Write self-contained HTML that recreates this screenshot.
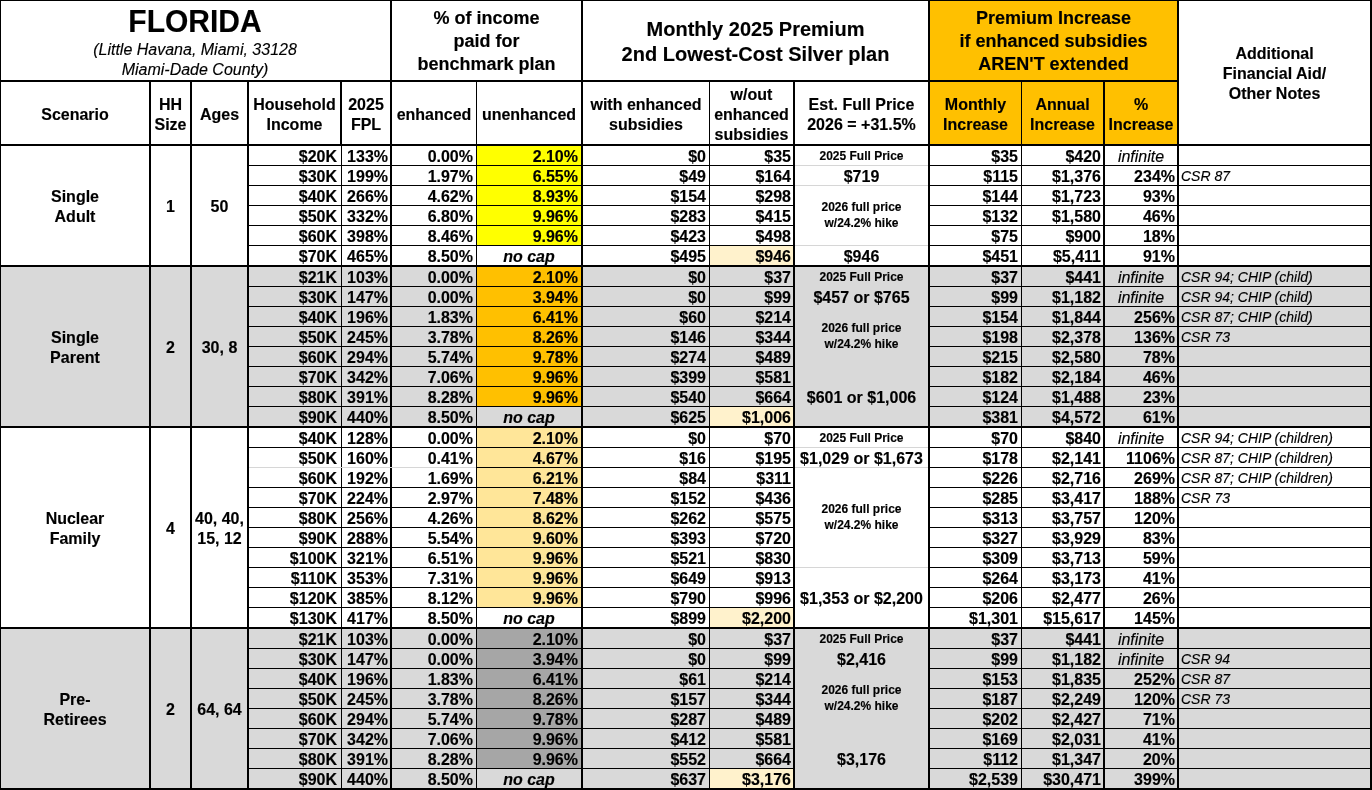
<!DOCTYPE html>
<html><head><meta charset="utf-8"><style>
html,body{margin:0;padding:0;background:#fff;}
#c{position:relative;width:1372px;height:790px;overflow:hidden;background:#fff;font-family:"Liberation Sans",sans-serif;color:#000;}
#c i{position:absolute;display:block;}
#t{position:absolute;left:0;top:0;width:1372px;height:790px;will-change:transform;}
#c b{position:absolute;display:block;white-space:pre;font-weight:bold;-webkit-text-stroke:0.15px #000;}
</style></head><body><div id="c">
<i style="left:930px;top:0px;width:247px;height:144px;background:#FFC000"></i>
<i style="left:0px;top:267px;width:1372px;height:159px;background:#D9D9D9"></i>
<i style="left:0px;top:629px;width:1372px;height:159px;background:#D9D9D9"></i>
<i style="left:477px;top:146px;width:104px;height:99px;background:#FFFF00"></i>
<i style="left:477px;top:267px;width:104px;height:139px;background:#FFC000"></i>
<i style="left:477px;top:428px;width:104px;height:179px;background:#FFE699"></i>
<i style="left:477px;top:629px;width:104px;height:139px;background:#A6A6A6"></i>
<i style="left:710px;top:246px;width:83px;height:19px;background:#FFF2CC"></i>
<i style="left:710px;top:407px;width:83px;height:19px;background:#FFF2CC"></i>
<i style="left:710px;top:608px;width:83px;height:19px;background:#FFF2CC"></i>
<i style="left:710px;top:769px;width:83px;height:19px;background:#FFF2CC"></i>
<i style="left:0px;top:0px;width:1372px;height:1px;background:#000"></i>
<i style="left:0px;top:0px;width:1px;height:790px;background:#000"></i>
<i style="left:1370px;top:0px;width:2px;height:790px;background:#000"></i>
<i style="left:0px;top:80px;width:1177px;height:2px;background:#000"></i>
<i style="left:0px;top:144px;width:1372px;height:2px;background:#000"></i>
<i style="left:0px;top:265px;width:1372px;height:2px;background:#000"></i>
<i style="left:0px;top:426px;width:1372px;height:2px;background:#000"></i>
<i style="left:0px;top:627px;width:1372px;height:2px;background:#000"></i>
<i style="left:0px;top:788px;width:1372px;height:2px;background:#000"></i>
<i style="left:390px;top:0px;width:2px;height:790px;background:#000"></i>
<i style="left:581px;top:0px;width:2px;height:790px;background:#000"></i>
<i style="left:928px;top:0px;width:2px;height:790px;background:#000"></i>
<i style="left:1177px;top:0px;width:2px;height:790px;background:#000"></i>
<i style="left:149px;top:82px;width:2px;height:708px;background:#000"></i>
<i style="left:190px;top:82px;width:2px;height:708px;background:#000"></i>
<i style="left:247px;top:82px;width:2px;height:708px;background:#000"></i>
<i style="left:476px;top:82px;width:1px;height:708px;background:#000"></i>
<i style="left:709px;top:82px;width:1px;height:708px;background:#000"></i>
<i style="left:793px;top:82px;width:2px;height:708px;background:#000"></i>
<i style="left:1021px;top:82px;width:1px;height:708px;background:#000"></i>
<i style="left:1103px;top:82px;width:2px;height:708px;background:#000"></i>
<i style="left:340px;top:82px;width:2px;height:64px;background:#000"></i>
<i style="left:341px;top:146px;width:1px;height:644px;background:#000"></i>
<i style="left:249px;top:165px;width:544px;height:1px;background:#000"></i>
<i style="left:930px;top:165px;width:440px;height:1px;background:#000"></i>
<i style="left:249px;top:185px;width:544px;height:1px;background:#000"></i>
<i style="left:930px;top:185px;width:440px;height:1px;background:#000"></i>
<i style="left:249px;top:205px;width:544px;height:1px;background:#000"></i>
<i style="left:930px;top:205px;width:440px;height:1px;background:#000"></i>
<i style="left:249px;top:225px;width:544px;height:1px;background:#000"></i>
<i style="left:930px;top:225px;width:440px;height:1px;background:#000"></i>
<i style="left:249px;top:245px;width:544px;height:1px;background:#000"></i>
<i style="left:930px;top:245px;width:440px;height:1px;background:#000"></i>
<i style="left:249px;top:286px;width:544px;height:1px;background:#000"></i>
<i style="left:930px;top:286px;width:440px;height:1px;background:#000"></i>
<i style="left:249px;top:306px;width:544px;height:1px;background:#000"></i>
<i style="left:930px;top:306px;width:440px;height:1px;background:#000"></i>
<i style="left:249px;top:326px;width:544px;height:1px;background:#000"></i>
<i style="left:930px;top:326px;width:440px;height:1px;background:#000"></i>
<i style="left:249px;top:346px;width:544px;height:1px;background:#000"></i>
<i style="left:930px;top:346px;width:440px;height:1px;background:#000"></i>
<i style="left:249px;top:366px;width:544px;height:1px;background:#000"></i>
<i style="left:930px;top:366px;width:440px;height:1px;background:#000"></i>
<i style="left:249px;top:386px;width:544px;height:1px;background:#000"></i>
<i style="left:930px;top:386px;width:440px;height:1px;background:#000"></i>
<i style="left:249px;top:406px;width:544px;height:1px;background:#000"></i>
<i style="left:930px;top:406px;width:440px;height:1px;background:#000"></i>
<i style="left:249px;top:447px;width:544px;height:1px;background:#000"></i>
<i style="left:930px;top:447px;width:440px;height:1px;background:#000"></i>
<i style="left:249px;top:467px;width:227px;height:1px;background:#D6D6D6"></i>
<i style="left:477px;top:467px;width:316px;height:1px;background:#000"></i>
<i style="left:930px;top:467px;width:440px;height:1px;background:#000"></i>
<i style="left:249px;top:487px;width:544px;height:1px;background:#000"></i>
<i style="left:930px;top:487px;width:440px;height:1px;background:#000"></i>
<i style="left:249px;top:507px;width:544px;height:1px;background:#000"></i>
<i style="left:930px;top:507px;width:440px;height:1px;background:#000"></i>
<i style="left:249px;top:527px;width:544px;height:1px;background:#000"></i>
<i style="left:930px;top:527px;width:440px;height:1px;background:#000"></i>
<i style="left:249px;top:547px;width:544px;height:1px;background:#000"></i>
<i style="left:930px;top:547px;width:440px;height:1px;background:#000"></i>
<i style="left:249px;top:567px;width:544px;height:1px;background:#000"></i>
<i style="left:930px;top:567px;width:440px;height:1px;background:#000"></i>
<i style="left:249px;top:587px;width:544px;height:1px;background:#000"></i>
<i style="left:930px;top:587px;width:440px;height:1px;background:#000"></i>
<i style="left:249px;top:607px;width:544px;height:1px;background:#000"></i>
<i style="left:930px;top:607px;width:440px;height:1px;background:#000"></i>
<i style="left:249px;top:648px;width:544px;height:1px;background:#000"></i>
<i style="left:930px;top:648px;width:440px;height:1px;background:#000"></i>
<i style="left:249px;top:668px;width:544px;height:1px;background:#000"></i>
<i style="left:930px;top:668px;width:440px;height:1px;background:#000"></i>
<i style="left:249px;top:688px;width:544px;height:1px;background:#000"></i>
<i style="left:930px;top:688px;width:440px;height:1px;background:#000"></i>
<i style="left:249px;top:708px;width:544px;height:1px;background:#000"></i>
<i style="left:930px;top:708px;width:440px;height:1px;background:#000"></i>
<i style="left:249px;top:728px;width:544px;height:1px;background:#000"></i>
<i style="left:930px;top:728px;width:440px;height:1px;background:#000"></i>
<i style="left:249px;top:748px;width:544px;height:1px;background:#000"></i>
<i style="left:930px;top:748px;width:440px;height:1px;background:#000"></i>
<i style="left:249px;top:768px;width:544px;height:1px;background:#000"></i>
<i style="left:930px;top:768px;width:440px;height:1px;background:#000"></i>
<i style="left:795px;top:165px;width:133px;height:1px;background:#D6D6D6"></i>
<i style="left:795px;top:185px;width:133px;height:1px;background:#D6D6D6"></i>
<i style="left:795px;top:245px;width:133px;height:1px;background:#D6D6D6"></i>
<i style="left:795px;top:447px;width:133px;height:1px;background:#D6D6D6"></i>
<i style="left:795px;top:467px;width:133px;height:1px;background:#D6D6D6"></i>
<i style="left:795px;top:567px;width:133px;height:1px;background:#D6D6D6"></i>
<div id="t">
<b style="top:5.30px;height:34px;line-height:34px;font-size:30px;transform:scaleY(1.05);transform-origin:0 27.40px;left:0px;width:390px;text-align:center;">FLORIDA</b>
<b style="top:41.06px;height:18px;line-height:18px;font-size:16px;font-weight:normal;font-style:italic;transform:scaleY(1.04);transform-origin:0 14.54px;left:0px;width:390px;text-align:center;">(Little Havana, Miami, 33128</b>
<b style="top:61.06px;height:18px;line-height:18px;font-size:16px;font-weight:normal;font-style:italic;transform:scaleY(1.04);transform-origin:0 14.54px;left:0px;width:390px;text-align:center;">Miami-Dade County)</b>
<b style="top:8.16px;height:21px;line-height:21px;font-size:18px;transform:scaleY(1.04);transform-origin:0 16.74px;left:392px;width:189px;text-align:center;">% of income</b>
<b style="top:31.16px;height:21px;line-height:21px;font-size:18px;transform:scaleY(1.04);transform-origin:0 16.74px;left:392px;width:189px;text-align:center;">paid for</b>
<b style="top:54.16px;height:21px;line-height:21px;font-size:18px;transform:scaleY(1.04);transform-origin:0 16.74px;left:392px;width:189px;text-align:center;">benchmark plan</b>
<b style="top:18.37px;height:23px;line-height:23px;font-size:20px;transform:scaleY(1.04);transform-origin:0 18.43px;left:583px;width:345px;text-align:center;">Monthly 2025 Premium</b>
<b style="top:43.37px;height:23px;line-height:23px;font-size:20px;transform:scaleY(1.04);transform-origin:0 18.43px;left:583px;width:345px;text-align:center;">2nd Lowest-Cost Silver plan</b>
<b style="top:7.96px;height:21px;line-height:21px;font-size:18px;transform:scaleY(1.04);transform-origin:0 16.74px;left:930px;width:247px;text-align:center;">Premium Increase</b>
<b style="top:30.96px;height:21px;line-height:21px;font-size:18px;transform:scaleY(1.04);transform-origin:0 16.74px;left:930px;width:247px;text-align:center;">if enhanced subsidies</b>
<b style="top:53.96px;height:21px;line-height:21px;font-size:18px;transform:scaleY(1.04);transform-origin:0 16.74px;left:930px;width:247px;text-align:center;">AREN&#x27;T extended</b>
<b style="top:45.26px;height:18px;line-height:18px;font-size:16px;transform:scaleY(1.04);transform-origin:0 14.54px;left:1179px;width:191px;text-align:center;">Additional</b>
<b style="top:65.26px;height:18px;line-height:18px;font-size:16px;transform:scaleY(1.04);transform-origin:0 14.54px;left:1179px;width:191px;text-align:center;">Financial Aid/</b>
<b style="top:85.26px;height:18px;line-height:18px;font-size:16px;transform:scaleY(1.04);transform-origin:0 14.54px;left:1179px;width:191px;text-align:center;">Other Notes</b>
<b style="top:106.46px;height:18px;line-height:18px;font-size:16px;transform:scaleY(1.04);transform-origin:0 14.54px;left:1px;width:148px;text-align:center;">Scenario</b>
<b style="top:96.46px;height:18px;line-height:18px;font-size:16px;transform:scaleY(1.04);transform-origin:0 14.54px;left:151px;width:39px;text-align:center;">HH</b>
<b style="top:116.46px;height:18px;line-height:18px;font-size:16px;transform:scaleY(1.04);transform-origin:0 14.54px;left:151px;width:39px;text-align:center;">Size</b>
<b style="top:106.46px;height:18px;line-height:18px;font-size:16px;transform:scaleY(1.04);transform-origin:0 14.54px;left:192px;width:55px;text-align:center;">Ages</b>
<b style="top:96.46px;height:18px;line-height:18px;font-size:16px;transform:scaleY(1.04);transform-origin:0 14.54px;left:249px;width:91px;text-align:center;">Household</b>
<b style="top:116.46px;height:18px;line-height:18px;font-size:16px;transform:scaleY(1.04);transform-origin:0 14.54px;left:249px;width:91px;text-align:center;">Income</b>
<b style="top:96.46px;height:18px;line-height:18px;font-size:16px;transform:scaleY(1.04);transform-origin:0 14.54px;left:342px;width:48px;text-align:center;">2025</b>
<b style="top:116.46px;height:18px;line-height:18px;font-size:16px;transform:scaleY(1.04);transform-origin:0 14.54px;left:342px;width:48px;text-align:center;">FPL</b>
<b style="top:106.46px;height:18px;line-height:18px;font-size:16px;transform:scaleY(1.04);transform-origin:0 14.54px;left:392px;width:84px;text-align:center;">enhanced</b>
<b style="top:106.46px;height:18px;line-height:18px;font-size:16px;transform:scaleY(1.04);transform-origin:0 14.54px;left:477px;width:104px;text-align:center;">unenhanced</b>
<b style="top:96.46px;height:18px;line-height:18px;font-size:16px;transform:scaleY(1.04);transform-origin:0 14.54px;left:583px;width:126px;text-align:center;">with enhanced</b>
<b style="top:116.46px;height:18px;line-height:18px;font-size:16px;transform:scaleY(1.04);transform-origin:0 14.54px;left:583px;width:126px;text-align:center;">subsidies</b>
<b style="top:86.46px;height:18px;line-height:18px;font-size:16px;transform:scaleY(1.04);transform-origin:0 14.54px;left:710px;width:83px;text-align:center;">w/out</b>
<b style="top:105.96px;height:18px;line-height:18px;font-size:16px;transform:scaleY(1.04);transform-origin:0 14.54px;left:710px;width:83px;text-align:center;">enhanced</b>
<b style="top:126.16px;height:18px;line-height:18px;font-size:16px;transform:scaleY(1.04);transform-origin:0 14.54px;left:710px;width:83px;text-align:center;">subsidies</b>
<b style="top:96.46px;height:18px;line-height:18px;font-size:16px;transform:scaleY(1.04);transform-origin:0 14.54px;left:795px;width:133px;text-align:center;">Est. Full Price</b>
<b style="top:116.46px;height:18px;line-height:18px;font-size:16px;transform:scaleY(1.04);transform-origin:0 14.54px;left:795px;width:133px;text-align:center;">2026 = +31.5%</b>
<b style="top:96.46px;height:18px;line-height:18px;font-size:16px;transform:scaleY(1.04);transform-origin:0 14.54px;left:930px;width:91px;text-align:center;">Monthly</b>
<b style="top:116.46px;height:18px;line-height:18px;font-size:16px;transform:scaleY(1.04);transform-origin:0 14.54px;left:930px;width:91px;text-align:center;">Increase</b>
<b style="top:96.46px;height:18px;line-height:18px;font-size:16px;transform:scaleY(1.04);transform-origin:0 14.54px;left:1022px;width:81px;text-align:center;">Annual</b>
<b style="top:116.46px;height:18px;line-height:18px;font-size:16px;transform:scaleY(1.04);transform-origin:0 14.54px;left:1022px;width:81px;text-align:center;">Increase</b>
<b style="top:96.46px;height:18px;line-height:18px;font-size:16px;transform:scaleY(1.04);transform-origin:0 14.54px;left:1105px;width:72px;text-align:center;">%</b>
<b style="top:116.46px;height:18px;line-height:18px;font-size:16px;transform:scaleY(1.04);transform-origin:0 14.54px;left:1105px;width:72px;text-align:center;">Increase</b>
<b style="top:187.76px;height:18px;line-height:18px;font-size:16px;transform:scaleY(1.04);transform-origin:0 14.54px;left:1px;width:148px;text-align:center;">Single</b>
<b style="top:208.26px;height:18px;line-height:18px;font-size:16px;transform:scaleY(1.04);transform-origin:0 14.54px;left:1px;width:148px;text-align:center;">Adult</b>
<b style="top:198.46px;height:18px;line-height:18px;font-size:16px;transform:scaleY(1.04);transform-origin:0 14.54px;left:151px;width:39px;text-align:center;">1</b>
<b style="top:198.46px;height:18px;line-height:18px;font-size:16px;transform:scaleY(1.04);transform-origin:0 14.54px;left:192px;width:55px;text-align:center;">50</b>
<b style="top:148.46px;height:18px;line-height:18px;font-size:16px;transform:scaleY(1.04);transform-origin:0 14.54px;right:1035px;text-align:right;">$20K</b>
<b style="top:148.46px;height:18px;line-height:18px;font-size:16px;transform:scaleY(1.04);transform-origin:0 14.54px;right:984px;text-align:right;">133%</b>
<b style="top:148.46px;height:18px;line-height:18px;font-size:16px;transform:scaleY(1.04);transform-origin:0 14.54px;right:899px;text-align:right;">0.00%</b>
<b style="top:148.46px;height:18px;line-height:18px;font-size:16px;transform:scaleY(1.04);transform-origin:0 14.54px;right:794px;text-align:right;">2.10%</b>
<b style="top:148.46px;height:18px;line-height:18px;font-size:16px;transform:scaleY(1.04);transform-origin:0 14.54px;right:666px;text-align:right;">$0</b>
<b style="top:148.46px;height:18px;line-height:18px;font-size:16px;transform:scaleY(1.04);transform-origin:0 14.54px;right:581px;text-align:right;">$35</b>
<b style="top:148.46px;height:18px;line-height:18px;font-size:16px;transform:scaleY(1.04);transform-origin:0 14.54px;right:354px;text-align:right;">$35</b>
<b style="top:148.46px;height:18px;line-height:18px;font-size:16px;transform:scaleY(1.04);transform-origin:0 14.54px;right:271px;text-align:right;">$420</b>
<b style="top:148.46px;height:18px;line-height:18px;font-size:16px;font-weight:normal;font-style:italic;transform:scaleY(1.04);transform-origin:0 14.54px;left:1105px;width:72px;text-align:center;">infinite</b>
<b style="top:168.46px;height:18px;line-height:18px;font-size:16px;transform:scaleY(1.04);transform-origin:0 14.54px;right:1035px;text-align:right;">$30K</b>
<b style="top:168.46px;height:18px;line-height:18px;font-size:16px;transform:scaleY(1.04);transform-origin:0 14.54px;right:984px;text-align:right;">199%</b>
<b style="top:168.46px;height:18px;line-height:18px;font-size:16px;transform:scaleY(1.04);transform-origin:0 14.54px;right:899px;text-align:right;">1.97%</b>
<b style="top:168.46px;height:18px;line-height:18px;font-size:16px;transform:scaleY(1.04);transform-origin:0 14.54px;right:794px;text-align:right;">6.55%</b>
<b style="top:168.46px;height:18px;line-height:18px;font-size:16px;transform:scaleY(1.04);transform-origin:0 14.54px;right:666px;text-align:right;">$49</b>
<b style="top:168.46px;height:18px;line-height:18px;font-size:16px;transform:scaleY(1.04);transform-origin:0 14.54px;right:581px;text-align:right;">$164</b>
<b style="top:168.46px;height:18px;line-height:18px;font-size:16px;transform:scaleY(1.04);transform-origin:0 14.54px;right:354px;text-align:right;">$115</b>
<b style="top:168.46px;height:18px;line-height:18px;font-size:16px;transform:scaleY(1.04);transform-origin:0 14.54px;right:271px;text-align:right;">$1,376</b>
<b style="top:168.46px;height:18px;line-height:18px;font-size:16px;transform:scaleY(1.04);transform-origin:0 14.54px;right:197px;text-align:right;">234%</b>
<b style="top:168.15px;height:16px;line-height:16px;font-size:14px;font-weight:normal;font-style:italic;transform:scaleY(1.04);transform-origin:0 12.85px;left:1181px;text-align:left;">CSR 87</b>
<b style="top:188.46px;height:18px;line-height:18px;font-size:16px;transform:scaleY(1.04);transform-origin:0 14.54px;right:1035px;text-align:right;">$40K</b>
<b style="top:188.46px;height:18px;line-height:18px;font-size:16px;transform:scaleY(1.04);transform-origin:0 14.54px;right:984px;text-align:right;">266%</b>
<b style="top:188.46px;height:18px;line-height:18px;font-size:16px;transform:scaleY(1.04);transform-origin:0 14.54px;right:899px;text-align:right;">4.62%</b>
<b style="top:188.46px;height:18px;line-height:18px;font-size:16px;transform:scaleY(1.04);transform-origin:0 14.54px;right:794px;text-align:right;">8.93%</b>
<b style="top:188.46px;height:18px;line-height:18px;font-size:16px;transform:scaleY(1.04);transform-origin:0 14.54px;right:666px;text-align:right;">$154</b>
<b style="top:188.46px;height:18px;line-height:18px;font-size:16px;transform:scaleY(1.04);transform-origin:0 14.54px;right:581px;text-align:right;">$298</b>
<b style="top:188.46px;height:18px;line-height:18px;font-size:16px;transform:scaleY(1.04);transform-origin:0 14.54px;right:354px;text-align:right;">$144</b>
<b style="top:188.46px;height:18px;line-height:18px;font-size:16px;transform:scaleY(1.04);transform-origin:0 14.54px;right:271px;text-align:right;">$1,723</b>
<b style="top:188.46px;height:18px;line-height:18px;font-size:16px;transform:scaleY(1.04);transform-origin:0 14.54px;right:197px;text-align:right;">93%</b>
<b style="top:208.46px;height:18px;line-height:18px;font-size:16px;transform:scaleY(1.04);transform-origin:0 14.54px;right:1035px;text-align:right;">$50K</b>
<b style="top:208.46px;height:18px;line-height:18px;font-size:16px;transform:scaleY(1.04);transform-origin:0 14.54px;right:984px;text-align:right;">332%</b>
<b style="top:208.46px;height:18px;line-height:18px;font-size:16px;transform:scaleY(1.04);transform-origin:0 14.54px;right:899px;text-align:right;">6.80%</b>
<b style="top:208.46px;height:18px;line-height:18px;font-size:16px;transform:scaleY(1.04);transform-origin:0 14.54px;right:794px;text-align:right;">9.96%</b>
<b style="top:208.46px;height:18px;line-height:18px;font-size:16px;transform:scaleY(1.04);transform-origin:0 14.54px;right:666px;text-align:right;">$283</b>
<b style="top:208.46px;height:18px;line-height:18px;font-size:16px;transform:scaleY(1.04);transform-origin:0 14.54px;right:581px;text-align:right;">$415</b>
<b style="top:208.46px;height:18px;line-height:18px;font-size:16px;transform:scaleY(1.04);transform-origin:0 14.54px;right:354px;text-align:right;">$132</b>
<b style="top:208.46px;height:18px;line-height:18px;font-size:16px;transform:scaleY(1.04);transform-origin:0 14.54px;right:271px;text-align:right;">$1,580</b>
<b style="top:208.46px;height:18px;line-height:18px;font-size:16px;transform:scaleY(1.04);transform-origin:0 14.54px;right:197px;text-align:right;">46%</b>
<b style="top:228.46px;height:18px;line-height:18px;font-size:16px;transform:scaleY(1.04);transform-origin:0 14.54px;right:1035px;text-align:right;">$60K</b>
<b style="top:228.46px;height:18px;line-height:18px;font-size:16px;transform:scaleY(1.04);transform-origin:0 14.54px;right:984px;text-align:right;">398%</b>
<b style="top:228.46px;height:18px;line-height:18px;font-size:16px;transform:scaleY(1.04);transform-origin:0 14.54px;right:899px;text-align:right;">8.46%</b>
<b style="top:228.46px;height:18px;line-height:18px;font-size:16px;transform:scaleY(1.04);transform-origin:0 14.54px;right:794px;text-align:right;">9.96%</b>
<b style="top:228.46px;height:18px;line-height:18px;font-size:16px;transform:scaleY(1.04);transform-origin:0 14.54px;right:666px;text-align:right;">$423</b>
<b style="top:228.46px;height:18px;line-height:18px;font-size:16px;transform:scaleY(1.04);transform-origin:0 14.54px;right:581px;text-align:right;">$498</b>
<b style="top:228.46px;height:18px;line-height:18px;font-size:16px;transform:scaleY(1.04);transform-origin:0 14.54px;right:354px;text-align:right;">$75</b>
<b style="top:228.46px;height:18px;line-height:18px;font-size:16px;transform:scaleY(1.04);transform-origin:0 14.54px;right:271px;text-align:right;">$900</b>
<b style="top:228.46px;height:18px;line-height:18px;font-size:16px;transform:scaleY(1.04);transform-origin:0 14.54px;right:197px;text-align:right;">18%</b>
<b style="top:248.46px;height:18px;line-height:18px;font-size:16px;transform:scaleY(1.04);transform-origin:0 14.54px;right:1035px;text-align:right;">$70K</b>
<b style="top:248.46px;height:18px;line-height:18px;font-size:16px;transform:scaleY(1.04);transform-origin:0 14.54px;right:984px;text-align:right;">465%</b>
<b style="top:248.46px;height:18px;line-height:18px;font-size:16px;transform:scaleY(1.04);transform-origin:0 14.54px;right:899px;text-align:right;">8.50%</b>
<b style="top:248.46px;height:18px;line-height:18px;font-size:16px;font-style:italic;transform:scaleY(1.04);transform-origin:0 14.54px;left:477px;width:104px;text-align:center;">no cap</b>
<b style="top:248.46px;height:18px;line-height:18px;font-size:16px;transform:scaleY(1.04);transform-origin:0 14.54px;right:666px;text-align:right;">$495</b>
<b style="top:248.46px;height:18px;line-height:18px;font-size:16px;transform:scaleY(1.04);transform-origin:0 14.54px;right:581px;text-align:right;">$946</b>
<b style="top:248.46px;height:18px;line-height:18px;font-size:16px;transform:scaleY(1.04);transform-origin:0 14.54px;right:354px;text-align:right;">$451</b>
<b style="top:248.46px;height:18px;line-height:18px;font-size:16px;transform:scaleY(1.04);transform-origin:0 14.54px;right:271px;text-align:right;">$5,411</b>
<b style="top:248.46px;height:18px;line-height:18px;font-size:16px;transform:scaleY(1.04);transform-origin:0 14.54px;right:197px;text-align:right;">91%</b>
<b style="top:148.84px;height:14px;line-height:14px;font-size:12px;transform:scaleY(1.04);transform-origin:0 11.16px;left:795px;width:133px;text-align:center;">2025 Full Price</b>
<b style="top:168.46px;height:18px;line-height:18px;font-size:16px;transform:scaleY(1.04);transform-origin:0 14.54px;left:795px;width:133px;text-align:center;">$719</b>
<b style="top:248.46px;height:18px;line-height:18px;font-size:16px;transform:scaleY(1.04);transform-origin:0 14.54px;left:795px;width:133px;text-align:center;">$946</b>
<b style="top:200.04px;height:14px;line-height:14px;font-size:12px;transform:scaleY(1.04);transform-origin:0 11.16px;left:795px;width:133px;text-align:center;">2026 full price</b>
<b style="top:215.84px;height:14px;line-height:14px;font-size:12px;transform:scaleY(1.04);transform-origin:0 11.16px;left:795px;width:133px;text-align:center;">w/24.2% hike</b>
<b style="top:328.76px;height:18px;line-height:18px;font-size:16px;transform:scaleY(1.04);transform-origin:0 14.54px;left:1px;width:148px;text-align:center;">Single</b>
<b style="top:349.26px;height:18px;line-height:18px;font-size:16px;transform:scaleY(1.04);transform-origin:0 14.54px;left:1px;width:148px;text-align:center;">Parent</b>
<b style="top:339.46px;height:18px;line-height:18px;font-size:16px;transform:scaleY(1.04);transform-origin:0 14.54px;left:151px;width:39px;text-align:center;">2</b>
<b style="top:339.46px;height:18px;line-height:18px;font-size:16px;transform:scaleY(1.04);transform-origin:0 14.54px;left:192px;width:55px;text-align:center;">30, 8</b>
<b style="top:269.46px;height:18px;line-height:18px;font-size:16px;transform:scaleY(1.04);transform-origin:0 14.54px;right:1035px;text-align:right;">$21K</b>
<b style="top:269.46px;height:18px;line-height:18px;font-size:16px;transform:scaleY(1.04);transform-origin:0 14.54px;right:984px;text-align:right;">103%</b>
<b style="top:269.46px;height:18px;line-height:18px;font-size:16px;transform:scaleY(1.04);transform-origin:0 14.54px;right:899px;text-align:right;">0.00%</b>
<b style="top:269.46px;height:18px;line-height:18px;font-size:16px;transform:scaleY(1.04);transform-origin:0 14.54px;right:794px;text-align:right;">2.10%</b>
<b style="top:269.46px;height:18px;line-height:18px;font-size:16px;transform:scaleY(1.04);transform-origin:0 14.54px;right:666px;text-align:right;">$0</b>
<b style="top:269.46px;height:18px;line-height:18px;font-size:16px;transform:scaleY(1.04);transform-origin:0 14.54px;right:581px;text-align:right;">$37</b>
<b style="top:269.46px;height:18px;line-height:18px;font-size:16px;transform:scaleY(1.04);transform-origin:0 14.54px;right:354px;text-align:right;">$37</b>
<b style="top:269.46px;height:18px;line-height:18px;font-size:16px;transform:scaleY(1.04);transform-origin:0 14.54px;right:271px;text-align:right;">$441</b>
<b style="top:269.46px;height:18px;line-height:18px;font-size:16px;font-weight:normal;font-style:italic;transform:scaleY(1.04);transform-origin:0 14.54px;left:1105px;width:72px;text-align:center;">infinite</b>
<b style="top:269.15px;height:16px;line-height:16px;font-size:14px;font-weight:normal;font-style:italic;transform:scaleY(1.04);transform-origin:0 12.85px;left:1181px;text-align:left;">CSR 94; CHIP (child)</b>
<b style="top:289.46px;height:18px;line-height:18px;font-size:16px;transform:scaleY(1.04);transform-origin:0 14.54px;right:1035px;text-align:right;">$30K</b>
<b style="top:289.46px;height:18px;line-height:18px;font-size:16px;transform:scaleY(1.04);transform-origin:0 14.54px;right:984px;text-align:right;">147%</b>
<b style="top:289.46px;height:18px;line-height:18px;font-size:16px;transform:scaleY(1.04);transform-origin:0 14.54px;right:899px;text-align:right;">0.00%</b>
<b style="top:289.46px;height:18px;line-height:18px;font-size:16px;transform:scaleY(1.04);transform-origin:0 14.54px;right:794px;text-align:right;">3.94%</b>
<b style="top:289.46px;height:18px;line-height:18px;font-size:16px;transform:scaleY(1.04);transform-origin:0 14.54px;right:666px;text-align:right;">$0</b>
<b style="top:289.46px;height:18px;line-height:18px;font-size:16px;transform:scaleY(1.04);transform-origin:0 14.54px;right:581px;text-align:right;">$99</b>
<b style="top:289.46px;height:18px;line-height:18px;font-size:16px;transform:scaleY(1.04);transform-origin:0 14.54px;right:354px;text-align:right;">$99</b>
<b style="top:289.46px;height:18px;line-height:18px;font-size:16px;transform:scaleY(1.04);transform-origin:0 14.54px;right:271px;text-align:right;">$1,182</b>
<b style="top:289.46px;height:18px;line-height:18px;font-size:16px;font-weight:normal;font-style:italic;transform:scaleY(1.04);transform-origin:0 14.54px;left:1105px;width:72px;text-align:center;">infinite</b>
<b style="top:289.15px;height:16px;line-height:16px;font-size:14px;font-weight:normal;font-style:italic;transform:scaleY(1.04);transform-origin:0 12.85px;left:1181px;text-align:left;">CSR 94; CHIP (child)</b>
<b style="top:309.46px;height:18px;line-height:18px;font-size:16px;transform:scaleY(1.04);transform-origin:0 14.54px;right:1035px;text-align:right;">$40K</b>
<b style="top:309.46px;height:18px;line-height:18px;font-size:16px;transform:scaleY(1.04);transform-origin:0 14.54px;right:984px;text-align:right;">196%</b>
<b style="top:309.46px;height:18px;line-height:18px;font-size:16px;transform:scaleY(1.04);transform-origin:0 14.54px;right:899px;text-align:right;">1.83%</b>
<b style="top:309.46px;height:18px;line-height:18px;font-size:16px;transform:scaleY(1.04);transform-origin:0 14.54px;right:794px;text-align:right;">6.41%</b>
<b style="top:309.46px;height:18px;line-height:18px;font-size:16px;transform:scaleY(1.04);transform-origin:0 14.54px;right:666px;text-align:right;">$60</b>
<b style="top:309.46px;height:18px;line-height:18px;font-size:16px;transform:scaleY(1.04);transform-origin:0 14.54px;right:581px;text-align:right;">$214</b>
<b style="top:309.46px;height:18px;line-height:18px;font-size:16px;transform:scaleY(1.04);transform-origin:0 14.54px;right:354px;text-align:right;">$154</b>
<b style="top:309.46px;height:18px;line-height:18px;font-size:16px;transform:scaleY(1.04);transform-origin:0 14.54px;right:271px;text-align:right;">$1,844</b>
<b style="top:309.46px;height:18px;line-height:18px;font-size:16px;transform:scaleY(1.04);transform-origin:0 14.54px;right:197px;text-align:right;">256%</b>
<b style="top:309.15px;height:16px;line-height:16px;font-size:14px;font-weight:normal;font-style:italic;transform:scaleY(1.04);transform-origin:0 12.85px;left:1181px;text-align:left;">CSR 87; CHIP (child)</b>
<b style="top:329.46px;height:18px;line-height:18px;font-size:16px;transform:scaleY(1.04);transform-origin:0 14.54px;right:1035px;text-align:right;">$50K</b>
<b style="top:329.46px;height:18px;line-height:18px;font-size:16px;transform:scaleY(1.04);transform-origin:0 14.54px;right:984px;text-align:right;">245%</b>
<b style="top:329.46px;height:18px;line-height:18px;font-size:16px;transform:scaleY(1.04);transform-origin:0 14.54px;right:899px;text-align:right;">3.78%</b>
<b style="top:329.46px;height:18px;line-height:18px;font-size:16px;transform:scaleY(1.04);transform-origin:0 14.54px;right:794px;text-align:right;">8.26%</b>
<b style="top:329.46px;height:18px;line-height:18px;font-size:16px;transform:scaleY(1.04);transform-origin:0 14.54px;right:666px;text-align:right;">$146</b>
<b style="top:329.46px;height:18px;line-height:18px;font-size:16px;transform:scaleY(1.04);transform-origin:0 14.54px;right:581px;text-align:right;">$344</b>
<b style="top:329.46px;height:18px;line-height:18px;font-size:16px;transform:scaleY(1.04);transform-origin:0 14.54px;right:354px;text-align:right;">$198</b>
<b style="top:329.46px;height:18px;line-height:18px;font-size:16px;transform:scaleY(1.04);transform-origin:0 14.54px;right:271px;text-align:right;">$2,378</b>
<b style="top:329.46px;height:18px;line-height:18px;font-size:16px;transform:scaleY(1.04);transform-origin:0 14.54px;right:197px;text-align:right;">136%</b>
<b style="top:329.15px;height:16px;line-height:16px;font-size:14px;font-weight:normal;font-style:italic;transform:scaleY(1.04);transform-origin:0 12.85px;left:1181px;text-align:left;">CSR 73</b>
<b style="top:349.46px;height:18px;line-height:18px;font-size:16px;transform:scaleY(1.04);transform-origin:0 14.54px;right:1035px;text-align:right;">$60K</b>
<b style="top:349.46px;height:18px;line-height:18px;font-size:16px;transform:scaleY(1.04);transform-origin:0 14.54px;right:984px;text-align:right;">294%</b>
<b style="top:349.46px;height:18px;line-height:18px;font-size:16px;transform:scaleY(1.04);transform-origin:0 14.54px;right:899px;text-align:right;">5.74%</b>
<b style="top:349.46px;height:18px;line-height:18px;font-size:16px;transform:scaleY(1.04);transform-origin:0 14.54px;right:794px;text-align:right;">9.78%</b>
<b style="top:349.46px;height:18px;line-height:18px;font-size:16px;transform:scaleY(1.04);transform-origin:0 14.54px;right:666px;text-align:right;">$274</b>
<b style="top:349.46px;height:18px;line-height:18px;font-size:16px;transform:scaleY(1.04);transform-origin:0 14.54px;right:581px;text-align:right;">$489</b>
<b style="top:349.46px;height:18px;line-height:18px;font-size:16px;transform:scaleY(1.04);transform-origin:0 14.54px;right:354px;text-align:right;">$215</b>
<b style="top:349.46px;height:18px;line-height:18px;font-size:16px;transform:scaleY(1.04);transform-origin:0 14.54px;right:271px;text-align:right;">$2,580</b>
<b style="top:349.46px;height:18px;line-height:18px;font-size:16px;transform:scaleY(1.04);transform-origin:0 14.54px;right:197px;text-align:right;">78%</b>
<b style="top:369.46px;height:18px;line-height:18px;font-size:16px;transform:scaleY(1.04);transform-origin:0 14.54px;right:1035px;text-align:right;">$70K</b>
<b style="top:369.46px;height:18px;line-height:18px;font-size:16px;transform:scaleY(1.04);transform-origin:0 14.54px;right:984px;text-align:right;">342%</b>
<b style="top:369.46px;height:18px;line-height:18px;font-size:16px;transform:scaleY(1.04);transform-origin:0 14.54px;right:899px;text-align:right;">7.06%</b>
<b style="top:369.46px;height:18px;line-height:18px;font-size:16px;transform:scaleY(1.04);transform-origin:0 14.54px;right:794px;text-align:right;">9.96%</b>
<b style="top:369.46px;height:18px;line-height:18px;font-size:16px;transform:scaleY(1.04);transform-origin:0 14.54px;right:666px;text-align:right;">$399</b>
<b style="top:369.46px;height:18px;line-height:18px;font-size:16px;transform:scaleY(1.04);transform-origin:0 14.54px;right:581px;text-align:right;">$581</b>
<b style="top:369.46px;height:18px;line-height:18px;font-size:16px;transform:scaleY(1.04);transform-origin:0 14.54px;right:354px;text-align:right;">$182</b>
<b style="top:369.46px;height:18px;line-height:18px;font-size:16px;transform:scaleY(1.04);transform-origin:0 14.54px;right:271px;text-align:right;">$2,184</b>
<b style="top:369.46px;height:18px;line-height:18px;font-size:16px;transform:scaleY(1.04);transform-origin:0 14.54px;right:197px;text-align:right;">46%</b>
<b style="top:389.46px;height:18px;line-height:18px;font-size:16px;transform:scaleY(1.04);transform-origin:0 14.54px;right:1035px;text-align:right;">$80K</b>
<b style="top:389.46px;height:18px;line-height:18px;font-size:16px;transform:scaleY(1.04);transform-origin:0 14.54px;right:984px;text-align:right;">391%</b>
<b style="top:389.46px;height:18px;line-height:18px;font-size:16px;transform:scaleY(1.04);transform-origin:0 14.54px;right:899px;text-align:right;">8.28%</b>
<b style="top:389.46px;height:18px;line-height:18px;font-size:16px;transform:scaleY(1.04);transform-origin:0 14.54px;right:794px;text-align:right;">9.96%</b>
<b style="top:389.46px;height:18px;line-height:18px;font-size:16px;transform:scaleY(1.04);transform-origin:0 14.54px;right:666px;text-align:right;">$540</b>
<b style="top:389.46px;height:18px;line-height:18px;font-size:16px;transform:scaleY(1.04);transform-origin:0 14.54px;right:581px;text-align:right;">$664</b>
<b style="top:389.46px;height:18px;line-height:18px;font-size:16px;transform:scaleY(1.04);transform-origin:0 14.54px;right:354px;text-align:right;">$124</b>
<b style="top:389.46px;height:18px;line-height:18px;font-size:16px;transform:scaleY(1.04);transform-origin:0 14.54px;right:271px;text-align:right;">$1,488</b>
<b style="top:389.46px;height:18px;line-height:18px;font-size:16px;transform:scaleY(1.04);transform-origin:0 14.54px;right:197px;text-align:right;">23%</b>
<b style="top:409.46px;height:18px;line-height:18px;font-size:16px;transform:scaleY(1.04);transform-origin:0 14.54px;right:1035px;text-align:right;">$90K</b>
<b style="top:409.46px;height:18px;line-height:18px;font-size:16px;transform:scaleY(1.04);transform-origin:0 14.54px;right:984px;text-align:right;">440%</b>
<b style="top:409.46px;height:18px;line-height:18px;font-size:16px;transform:scaleY(1.04);transform-origin:0 14.54px;right:899px;text-align:right;">8.50%</b>
<b style="top:409.46px;height:18px;line-height:18px;font-size:16px;font-style:italic;transform:scaleY(1.04);transform-origin:0 14.54px;left:477px;width:104px;text-align:center;">no cap</b>
<b style="top:409.46px;height:18px;line-height:18px;font-size:16px;transform:scaleY(1.04);transform-origin:0 14.54px;right:666px;text-align:right;">$625</b>
<b style="top:409.46px;height:18px;line-height:18px;font-size:16px;transform:scaleY(1.04);transform-origin:0 14.54px;right:581px;text-align:right;">$1,006</b>
<b style="top:409.46px;height:18px;line-height:18px;font-size:16px;transform:scaleY(1.04);transform-origin:0 14.54px;right:354px;text-align:right;">$381</b>
<b style="top:409.46px;height:18px;line-height:18px;font-size:16px;transform:scaleY(1.04);transform-origin:0 14.54px;right:271px;text-align:right;">$4,572</b>
<b style="top:409.46px;height:18px;line-height:18px;font-size:16px;transform:scaleY(1.04);transform-origin:0 14.54px;right:197px;text-align:right;">61%</b>
<b style="top:269.84px;height:14px;line-height:14px;font-size:12px;transform:scaleY(1.04);transform-origin:0 11.16px;left:795px;width:133px;text-align:center;">2025 Full Price</b>
<b style="top:289.46px;height:18px;line-height:18px;font-size:16px;transform:scaleY(1.04);transform-origin:0 14.54px;left:795px;width:133px;text-align:center;">$457 or $765</b>
<b style="top:389.46px;height:18px;line-height:18px;font-size:16px;transform:scaleY(1.04);transform-origin:0 14.54px;left:795px;width:133px;text-align:center;">$601 or $1,006</b>
<b style="top:321.04px;height:14px;line-height:14px;font-size:12px;transform:scaleY(1.04);transform-origin:0 11.16px;left:795px;width:133px;text-align:center;">2026 full price</b>
<b style="top:336.84px;height:14px;line-height:14px;font-size:12px;transform:scaleY(1.04);transform-origin:0 11.16px;left:795px;width:133px;text-align:center;">w/24.2% hike</b>
<b style="top:509.76px;height:18px;line-height:18px;font-size:16px;transform:scaleY(1.04);transform-origin:0 14.54px;left:1px;width:148px;text-align:center;">Nuclear</b>
<b style="top:530.26px;height:18px;line-height:18px;font-size:16px;transform:scaleY(1.04);transform-origin:0 14.54px;left:1px;width:148px;text-align:center;">Family</b>
<b style="top:520.46px;height:18px;line-height:18px;font-size:16px;transform:scaleY(1.04);transform-origin:0 14.54px;left:151px;width:39px;text-align:center;">4</b>
<b style="top:509.76px;height:18px;line-height:18px;font-size:16px;transform:scaleY(1.04);transform-origin:0 14.54px;left:192px;width:55px;text-align:center;">40, 40,</b>
<b style="top:530.26px;height:18px;line-height:18px;font-size:16px;transform:scaleY(1.04);transform-origin:0 14.54px;left:192px;width:55px;text-align:center;">15, 12</b>
<b style="top:430.46px;height:18px;line-height:18px;font-size:16px;transform:scaleY(1.04);transform-origin:0 14.54px;right:1035px;text-align:right;">$40K</b>
<b style="top:430.46px;height:18px;line-height:18px;font-size:16px;transform:scaleY(1.04);transform-origin:0 14.54px;right:984px;text-align:right;">128%</b>
<b style="top:430.46px;height:18px;line-height:18px;font-size:16px;transform:scaleY(1.04);transform-origin:0 14.54px;right:899px;text-align:right;">0.00%</b>
<b style="top:430.46px;height:18px;line-height:18px;font-size:16px;transform:scaleY(1.04);transform-origin:0 14.54px;right:794px;text-align:right;">2.10%</b>
<b style="top:430.46px;height:18px;line-height:18px;font-size:16px;transform:scaleY(1.04);transform-origin:0 14.54px;right:666px;text-align:right;">$0</b>
<b style="top:430.46px;height:18px;line-height:18px;font-size:16px;transform:scaleY(1.04);transform-origin:0 14.54px;right:581px;text-align:right;">$70</b>
<b style="top:430.46px;height:18px;line-height:18px;font-size:16px;transform:scaleY(1.04);transform-origin:0 14.54px;right:354px;text-align:right;">$70</b>
<b style="top:430.46px;height:18px;line-height:18px;font-size:16px;transform:scaleY(1.04);transform-origin:0 14.54px;right:271px;text-align:right;">$840</b>
<b style="top:430.46px;height:18px;line-height:18px;font-size:16px;font-weight:normal;font-style:italic;transform:scaleY(1.04);transform-origin:0 14.54px;left:1105px;width:72px;text-align:center;">infinite</b>
<b style="top:430.15px;height:16px;line-height:16px;font-size:14px;font-weight:normal;font-style:italic;transform:scaleY(1.04);transform-origin:0 12.85px;left:1181px;text-align:left;">CSR 94; CHIP (children)</b>
<b style="top:450.46px;height:18px;line-height:18px;font-size:16px;transform:scaleY(1.04);transform-origin:0 14.54px;right:1035px;text-align:right;">$50K</b>
<b style="top:450.46px;height:18px;line-height:18px;font-size:16px;transform:scaleY(1.04);transform-origin:0 14.54px;right:984px;text-align:right;">160%</b>
<b style="top:450.46px;height:18px;line-height:18px;font-size:16px;transform:scaleY(1.04);transform-origin:0 14.54px;right:899px;text-align:right;">0.41%</b>
<b style="top:450.46px;height:18px;line-height:18px;font-size:16px;transform:scaleY(1.04);transform-origin:0 14.54px;right:794px;text-align:right;">4.67%</b>
<b style="top:450.46px;height:18px;line-height:18px;font-size:16px;transform:scaleY(1.04);transform-origin:0 14.54px;right:666px;text-align:right;">$16</b>
<b style="top:450.46px;height:18px;line-height:18px;font-size:16px;transform:scaleY(1.04);transform-origin:0 14.54px;right:581px;text-align:right;">$195</b>
<b style="top:450.46px;height:18px;line-height:18px;font-size:16px;transform:scaleY(1.04);transform-origin:0 14.54px;right:354px;text-align:right;">$178</b>
<b style="top:450.46px;height:18px;line-height:18px;font-size:16px;transform:scaleY(1.04);transform-origin:0 14.54px;right:271px;text-align:right;">$2,141</b>
<b style="top:450.46px;height:18px;line-height:18px;font-size:16px;transform:scaleY(1.04);transform-origin:0 14.54px;right:197px;text-align:right;">1106%</b>
<b style="top:450.15px;height:16px;line-height:16px;font-size:14px;font-weight:normal;font-style:italic;transform:scaleY(1.04);transform-origin:0 12.85px;left:1181px;text-align:left;">CSR 87; CHIP (children)</b>
<b style="top:470.46px;height:18px;line-height:18px;font-size:16px;transform:scaleY(1.04);transform-origin:0 14.54px;right:1035px;text-align:right;">$60K</b>
<b style="top:470.46px;height:18px;line-height:18px;font-size:16px;transform:scaleY(1.04);transform-origin:0 14.54px;right:984px;text-align:right;">192%</b>
<b style="top:470.46px;height:18px;line-height:18px;font-size:16px;transform:scaleY(1.04);transform-origin:0 14.54px;right:899px;text-align:right;">1.69%</b>
<b style="top:470.46px;height:18px;line-height:18px;font-size:16px;transform:scaleY(1.04);transform-origin:0 14.54px;right:794px;text-align:right;">6.21%</b>
<b style="top:470.46px;height:18px;line-height:18px;font-size:16px;transform:scaleY(1.04);transform-origin:0 14.54px;right:666px;text-align:right;">$84</b>
<b style="top:470.46px;height:18px;line-height:18px;font-size:16px;transform:scaleY(1.04);transform-origin:0 14.54px;right:581px;text-align:right;">$311</b>
<b style="top:470.46px;height:18px;line-height:18px;font-size:16px;transform:scaleY(1.04);transform-origin:0 14.54px;right:354px;text-align:right;">$226</b>
<b style="top:470.46px;height:18px;line-height:18px;font-size:16px;transform:scaleY(1.04);transform-origin:0 14.54px;right:271px;text-align:right;">$2,716</b>
<b style="top:470.46px;height:18px;line-height:18px;font-size:16px;transform:scaleY(1.04);transform-origin:0 14.54px;right:197px;text-align:right;">269%</b>
<b style="top:470.15px;height:16px;line-height:16px;font-size:14px;font-weight:normal;font-style:italic;transform:scaleY(1.04);transform-origin:0 12.85px;left:1181px;text-align:left;">CSR 87; CHIP (children)</b>
<b style="top:490.46px;height:18px;line-height:18px;font-size:16px;transform:scaleY(1.04);transform-origin:0 14.54px;right:1035px;text-align:right;">$70K</b>
<b style="top:490.46px;height:18px;line-height:18px;font-size:16px;transform:scaleY(1.04);transform-origin:0 14.54px;right:984px;text-align:right;">224%</b>
<b style="top:490.46px;height:18px;line-height:18px;font-size:16px;transform:scaleY(1.04);transform-origin:0 14.54px;right:899px;text-align:right;">2.97%</b>
<b style="top:490.46px;height:18px;line-height:18px;font-size:16px;transform:scaleY(1.04);transform-origin:0 14.54px;right:794px;text-align:right;">7.48%</b>
<b style="top:490.46px;height:18px;line-height:18px;font-size:16px;transform:scaleY(1.04);transform-origin:0 14.54px;right:666px;text-align:right;">$152</b>
<b style="top:490.46px;height:18px;line-height:18px;font-size:16px;transform:scaleY(1.04);transform-origin:0 14.54px;right:581px;text-align:right;">$436</b>
<b style="top:490.46px;height:18px;line-height:18px;font-size:16px;transform:scaleY(1.04);transform-origin:0 14.54px;right:354px;text-align:right;">$285</b>
<b style="top:490.46px;height:18px;line-height:18px;font-size:16px;transform:scaleY(1.04);transform-origin:0 14.54px;right:271px;text-align:right;">$3,417</b>
<b style="top:490.46px;height:18px;line-height:18px;font-size:16px;transform:scaleY(1.04);transform-origin:0 14.54px;right:197px;text-align:right;">188%</b>
<b style="top:490.15px;height:16px;line-height:16px;font-size:14px;font-weight:normal;font-style:italic;transform:scaleY(1.04);transform-origin:0 12.85px;left:1181px;text-align:left;">CSR 73</b>
<b style="top:510.46px;height:18px;line-height:18px;font-size:16px;transform:scaleY(1.04);transform-origin:0 14.54px;right:1035px;text-align:right;">$80K</b>
<b style="top:510.46px;height:18px;line-height:18px;font-size:16px;transform:scaleY(1.04);transform-origin:0 14.54px;right:984px;text-align:right;">256%</b>
<b style="top:510.46px;height:18px;line-height:18px;font-size:16px;transform:scaleY(1.04);transform-origin:0 14.54px;right:899px;text-align:right;">4.26%</b>
<b style="top:510.46px;height:18px;line-height:18px;font-size:16px;transform:scaleY(1.04);transform-origin:0 14.54px;right:794px;text-align:right;">8.62%</b>
<b style="top:510.46px;height:18px;line-height:18px;font-size:16px;transform:scaleY(1.04);transform-origin:0 14.54px;right:666px;text-align:right;">$262</b>
<b style="top:510.46px;height:18px;line-height:18px;font-size:16px;transform:scaleY(1.04);transform-origin:0 14.54px;right:581px;text-align:right;">$575</b>
<b style="top:510.46px;height:18px;line-height:18px;font-size:16px;transform:scaleY(1.04);transform-origin:0 14.54px;right:354px;text-align:right;">$313</b>
<b style="top:510.46px;height:18px;line-height:18px;font-size:16px;transform:scaleY(1.04);transform-origin:0 14.54px;right:271px;text-align:right;">$3,757</b>
<b style="top:510.46px;height:18px;line-height:18px;font-size:16px;transform:scaleY(1.04);transform-origin:0 14.54px;right:197px;text-align:right;">120%</b>
<b style="top:530.46px;height:18px;line-height:18px;font-size:16px;transform:scaleY(1.04);transform-origin:0 14.54px;right:1035px;text-align:right;">$90K</b>
<b style="top:530.46px;height:18px;line-height:18px;font-size:16px;transform:scaleY(1.04);transform-origin:0 14.54px;right:984px;text-align:right;">288%</b>
<b style="top:530.46px;height:18px;line-height:18px;font-size:16px;transform:scaleY(1.04);transform-origin:0 14.54px;right:899px;text-align:right;">5.54%</b>
<b style="top:530.46px;height:18px;line-height:18px;font-size:16px;transform:scaleY(1.04);transform-origin:0 14.54px;right:794px;text-align:right;">9.60%</b>
<b style="top:530.46px;height:18px;line-height:18px;font-size:16px;transform:scaleY(1.04);transform-origin:0 14.54px;right:666px;text-align:right;">$393</b>
<b style="top:530.46px;height:18px;line-height:18px;font-size:16px;transform:scaleY(1.04);transform-origin:0 14.54px;right:581px;text-align:right;">$720</b>
<b style="top:530.46px;height:18px;line-height:18px;font-size:16px;transform:scaleY(1.04);transform-origin:0 14.54px;right:354px;text-align:right;">$327</b>
<b style="top:530.46px;height:18px;line-height:18px;font-size:16px;transform:scaleY(1.04);transform-origin:0 14.54px;right:271px;text-align:right;">$3,929</b>
<b style="top:530.46px;height:18px;line-height:18px;font-size:16px;transform:scaleY(1.04);transform-origin:0 14.54px;right:197px;text-align:right;">83%</b>
<b style="top:550.46px;height:18px;line-height:18px;font-size:16px;transform:scaleY(1.04);transform-origin:0 14.54px;right:1035px;text-align:right;">$100K</b>
<b style="top:550.46px;height:18px;line-height:18px;font-size:16px;transform:scaleY(1.04);transform-origin:0 14.54px;right:984px;text-align:right;">321%</b>
<b style="top:550.46px;height:18px;line-height:18px;font-size:16px;transform:scaleY(1.04);transform-origin:0 14.54px;right:899px;text-align:right;">6.51%</b>
<b style="top:550.46px;height:18px;line-height:18px;font-size:16px;transform:scaleY(1.04);transform-origin:0 14.54px;right:794px;text-align:right;">9.96%</b>
<b style="top:550.46px;height:18px;line-height:18px;font-size:16px;transform:scaleY(1.04);transform-origin:0 14.54px;right:666px;text-align:right;">$521</b>
<b style="top:550.46px;height:18px;line-height:18px;font-size:16px;transform:scaleY(1.04);transform-origin:0 14.54px;right:581px;text-align:right;">$830</b>
<b style="top:550.46px;height:18px;line-height:18px;font-size:16px;transform:scaleY(1.04);transform-origin:0 14.54px;right:354px;text-align:right;">$309</b>
<b style="top:550.46px;height:18px;line-height:18px;font-size:16px;transform:scaleY(1.04);transform-origin:0 14.54px;right:271px;text-align:right;">$3,713</b>
<b style="top:550.46px;height:18px;line-height:18px;font-size:16px;transform:scaleY(1.04);transform-origin:0 14.54px;right:197px;text-align:right;">59%</b>
<b style="top:570.46px;height:18px;line-height:18px;font-size:16px;transform:scaleY(1.04);transform-origin:0 14.54px;right:1035px;text-align:right;">$110K</b>
<b style="top:570.46px;height:18px;line-height:18px;font-size:16px;transform:scaleY(1.04);transform-origin:0 14.54px;right:984px;text-align:right;">353%</b>
<b style="top:570.46px;height:18px;line-height:18px;font-size:16px;transform:scaleY(1.04);transform-origin:0 14.54px;right:899px;text-align:right;">7.31%</b>
<b style="top:570.46px;height:18px;line-height:18px;font-size:16px;transform:scaleY(1.04);transform-origin:0 14.54px;right:794px;text-align:right;">9.96%</b>
<b style="top:570.46px;height:18px;line-height:18px;font-size:16px;transform:scaleY(1.04);transform-origin:0 14.54px;right:666px;text-align:right;">$649</b>
<b style="top:570.46px;height:18px;line-height:18px;font-size:16px;transform:scaleY(1.04);transform-origin:0 14.54px;right:581px;text-align:right;">$913</b>
<b style="top:570.46px;height:18px;line-height:18px;font-size:16px;transform:scaleY(1.04);transform-origin:0 14.54px;right:354px;text-align:right;">$264</b>
<b style="top:570.46px;height:18px;line-height:18px;font-size:16px;transform:scaleY(1.04);transform-origin:0 14.54px;right:271px;text-align:right;">$3,173</b>
<b style="top:570.46px;height:18px;line-height:18px;font-size:16px;transform:scaleY(1.04);transform-origin:0 14.54px;right:197px;text-align:right;">41%</b>
<b style="top:590.46px;height:18px;line-height:18px;font-size:16px;transform:scaleY(1.04);transform-origin:0 14.54px;right:1035px;text-align:right;">$120K</b>
<b style="top:590.46px;height:18px;line-height:18px;font-size:16px;transform:scaleY(1.04);transform-origin:0 14.54px;right:984px;text-align:right;">385%</b>
<b style="top:590.46px;height:18px;line-height:18px;font-size:16px;transform:scaleY(1.04);transform-origin:0 14.54px;right:899px;text-align:right;">8.12%</b>
<b style="top:590.46px;height:18px;line-height:18px;font-size:16px;transform:scaleY(1.04);transform-origin:0 14.54px;right:794px;text-align:right;">9.96%</b>
<b style="top:590.46px;height:18px;line-height:18px;font-size:16px;transform:scaleY(1.04);transform-origin:0 14.54px;right:666px;text-align:right;">$790</b>
<b style="top:590.46px;height:18px;line-height:18px;font-size:16px;transform:scaleY(1.04);transform-origin:0 14.54px;right:581px;text-align:right;">$996</b>
<b style="top:590.46px;height:18px;line-height:18px;font-size:16px;transform:scaleY(1.04);transform-origin:0 14.54px;right:354px;text-align:right;">$206</b>
<b style="top:590.46px;height:18px;line-height:18px;font-size:16px;transform:scaleY(1.04);transform-origin:0 14.54px;right:271px;text-align:right;">$2,477</b>
<b style="top:590.46px;height:18px;line-height:18px;font-size:16px;transform:scaleY(1.04);transform-origin:0 14.54px;right:197px;text-align:right;">26%</b>
<b style="top:610.46px;height:18px;line-height:18px;font-size:16px;transform:scaleY(1.04);transform-origin:0 14.54px;right:1035px;text-align:right;">$130K</b>
<b style="top:610.46px;height:18px;line-height:18px;font-size:16px;transform:scaleY(1.04);transform-origin:0 14.54px;right:984px;text-align:right;">417%</b>
<b style="top:610.46px;height:18px;line-height:18px;font-size:16px;transform:scaleY(1.04);transform-origin:0 14.54px;right:899px;text-align:right;">8.50%</b>
<b style="top:610.46px;height:18px;line-height:18px;font-size:16px;font-style:italic;transform:scaleY(1.04);transform-origin:0 14.54px;left:477px;width:104px;text-align:center;">no cap</b>
<b style="top:610.46px;height:18px;line-height:18px;font-size:16px;transform:scaleY(1.04);transform-origin:0 14.54px;right:666px;text-align:right;">$899</b>
<b style="top:610.46px;height:18px;line-height:18px;font-size:16px;transform:scaleY(1.04);transform-origin:0 14.54px;right:581px;text-align:right;">$2,200</b>
<b style="top:610.46px;height:18px;line-height:18px;font-size:16px;transform:scaleY(1.04);transform-origin:0 14.54px;right:354px;text-align:right;">$1,301</b>
<b style="top:610.46px;height:18px;line-height:18px;font-size:16px;transform:scaleY(1.04);transform-origin:0 14.54px;right:271px;text-align:right;">$15,617</b>
<b style="top:610.46px;height:18px;line-height:18px;font-size:16px;transform:scaleY(1.04);transform-origin:0 14.54px;right:197px;text-align:right;">145%</b>
<b style="top:430.84px;height:14px;line-height:14px;font-size:12px;transform:scaleY(1.04);transform-origin:0 11.16px;left:795px;width:133px;text-align:center;">2025 Full Price</b>
<b style="top:450.46px;height:18px;line-height:18px;font-size:16px;transform:scaleY(1.04);transform-origin:0 14.54px;left:795px;width:133px;text-align:center;">$1,029 or $1,673</b>
<b style="top:590.46px;height:18px;line-height:18px;font-size:16px;transform:scaleY(1.04);transform-origin:0 14.54px;left:795px;width:133px;text-align:center;">$1,353 or $2,200</b>
<b style="top:502.04px;height:14px;line-height:14px;font-size:12px;transform:scaleY(1.04);transform-origin:0 11.16px;left:795px;width:133px;text-align:center;">2026 full price</b>
<b style="top:517.84px;height:14px;line-height:14px;font-size:12px;transform:scaleY(1.04);transform-origin:0 11.16px;left:795px;width:133px;text-align:center;">w/24.2% hike</b>
<b style="top:690.76px;height:18px;line-height:18px;font-size:16px;transform:scaleY(1.04);transform-origin:0 14.54px;left:1px;width:148px;text-align:center;">Pre-</b>
<b style="top:711.26px;height:18px;line-height:18px;font-size:16px;transform:scaleY(1.04);transform-origin:0 14.54px;left:1px;width:148px;text-align:center;">Retirees</b>
<b style="top:701.46px;height:18px;line-height:18px;font-size:16px;transform:scaleY(1.04);transform-origin:0 14.54px;left:151px;width:39px;text-align:center;">2</b>
<b style="top:701.46px;height:18px;line-height:18px;font-size:16px;transform:scaleY(1.04);transform-origin:0 14.54px;left:192px;width:55px;text-align:center;">64, 64</b>
<b style="top:631.46px;height:18px;line-height:18px;font-size:16px;transform:scaleY(1.04);transform-origin:0 14.54px;right:1035px;text-align:right;">$21K</b>
<b style="top:631.46px;height:18px;line-height:18px;font-size:16px;transform:scaleY(1.04);transform-origin:0 14.54px;right:984px;text-align:right;">103%</b>
<b style="top:631.46px;height:18px;line-height:18px;font-size:16px;transform:scaleY(1.04);transform-origin:0 14.54px;right:899px;text-align:right;">0.00%</b>
<b style="top:631.46px;height:18px;line-height:18px;font-size:16px;transform:scaleY(1.04);transform-origin:0 14.54px;right:794px;text-align:right;">2.10%</b>
<b style="top:631.46px;height:18px;line-height:18px;font-size:16px;transform:scaleY(1.04);transform-origin:0 14.54px;right:666px;text-align:right;">$0</b>
<b style="top:631.46px;height:18px;line-height:18px;font-size:16px;transform:scaleY(1.04);transform-origin:0 14.54px;right:581px;text-align:right;">$37</b>
<b style="top:631.46px;height:18px;line-height:18px;font-size:16px;transform:scaleY(1.04);transform-origin:0 14.54px;right:354px;text-align:right;">$37</b>
<b style="top:631.46px;height:18px;line-height:18px;font-size:16px;transform:scaleY(1.04);transform-origin:0 14.54px;right:271px;text-align:right;">$441</b>
<b style="top:631.46px;height:18px;line-height:18px;font-size:16px;font-weight:normal;font-style:italic;transform:scaleY(1.04);transform-origin:0 14.54px;left:1105px;width:72px;text-align:center;">infinite</b>
<b style="top:651.46px;height:18px;line-height:18px;font-size:16px;transform:scaleY(1.04);transform-origin:0 14.54px;right:1035px;text-align:right;">$30K</b>
<b style="top:651.46px;height:18px;line-height:18px;font-size:16px;transform:scaleY(1.04);transform-origin:0 14.54px;right:984px;text-align:right;">147%</b>
<b style="top:651.46px;height:18px;line-height:18px;font-size:16px;transform:scaleY(1.04);transform-origin:0 14.54px;right:899px;text-align:right;">0.00%</b>
<b style="top:651.46px;height:18px;line-height:18px;font-size:16px;transform:scaleY(1.04);transform-origin:0 14.54px;right:794px;text-align:right;">3.94%</b>
<b style="top:651.46px;height:18px;line-height:18px;font-size:16px;transform:scaleY(1.04);transform-origin:0 14.54px;right:666px;text-align:right;">$0</b>
<b style="top:651.46px;height:18px;line-height:18px;font-size:16px;transform:scaleY(1.04);transform-origin:0 14.54px;right:581px;text-align:right;">$99</b>
<b style="top:651.46px;height:18px;line-height:18px;font-size:16px;transform:scaleY(1.04);transform-origin:0 14.54px;right:354px;text-align:right;">$99</b>
<b style="top:651.46px;height:18px;line-height:18px;font-size:16px;transform:scaleY(1.04);transform-origin:0 14.54px;right:271px;text-align:right;">$1,182</b>
<b style="top:651.46px;height:18px;line-height:18px;font-size:16px;font-weight:normal;font-style:italic;transform:scaleY(1.04);transform-origin:0 14.54px;left:1105px;width:72px;text-align:center;">infinite</b>
<b style="top:651.15px;height:16px;line-height:16px;font-size:14px;font-weight:normal;font-style:italic;transform:scaleY(1.04);transform-origin:0 12.85px;left:1181px;text-align:left;">CSR 94</b>
<b style="top:671.46px;height:18px;line-height:18px;font-size:16px;transform:scaleY(1.04);transform-origin:0 14.54px;right:1035px;text-align:right;">$40K</b>
<b style="top:671.46px;height:18px;line-height:18px;font-size:16px;transform:scaleY(1.04);transform-origin:0 14.54px;right:984px;text-align:right;">196%</b>
<b style="top:671.46px;height:18px;line-height:18px;font-size:16px;transform:scaleY(1.04);transform-origin:0 14.54px;right:899px;text-align:right;">1.83%</b>
<b style="top:671.46px;height:18px;line-height:18px;font-size:16px;transform:scaleY(1.04);transform-origin:0 14.54px;right:794px;text-align:right;">6.41%</b>
<b style="top:671.46px;height:18px;line-height:18px;font-size:16px;transform:scaleY(1.04);transform-origin:0 14.54px;right:666px;text-align:right;">$61</b>
<b style="top:671.46px;height:18px;line-height:18px;font-size:16px;transform:scaleY(1.04);transform-origin:0 14.54px;right:581px;text-align:right;">$214</b>
<b style="top:671.46px;height:18px;line-height:18px;font-size:16px;transform:scaleY(1.04);transform-origin:0 14.54px;right:354px;text-align:right;">$153</b>
<b style="top:671.46px;height:18px;line-height:18px;font-size:16px;transform:scaleY(1.04);transform-origin:0 14.54px;right:271px;text-align:right;">$1,835</b>
<b style="top:671.46px;height:18px;line-height:18px;font-size:16px;transform:scaleY(1.04);transform-origin:0 14.54px;right:197px;text-align:right;">252%</b>
<b style="top:671.15px;height:16px;line-height:16px;font-size:14px;font-weight:normal;font-style:italic;transform:scaleY(1.04);transform-origin:0 12.85px;left:1181px;text-align:left;">CSR 87</b>
<b style="top:691.46px;height:18px;line-height:18px;font-size:16px;transform:scaleY(1.04);transform-origin:0 14.54px;right:1035px;text-align:right;">$50K</b>
<b style="top:691.46px;height:18px;line-height:18px;font-size:16px;transform:scaleY(1.04);transform-origin:0 14.54px;right:984px;text-align:right;">245%</b>
<b style="top:691.46px;height:18px;line-height:18px;font-size:16px;transform:scaleY(1.04);transform-origin:0 14.54px;right:899px;text-align:right;">3.78%</b>
<b style="top:691.46px;height:18px;line-height:18px;font-size:16px;transform:scaleY(1.04);transform-origin:0 14.54px;right:794px;text-align:right;">8.26%</b>
<b style="top:691.46px;height:18px;line-height:18px;font-size:16px;transform:scaleY(1.04);transform-origin:0 14.54px;right:666px;text-align:right;">$157</b>
<b style="top:691.46px;height:18px;line-height:18px;font-size:16px;transform:scaleY(1.04);transform-origin:0 14.54px;right:581px;text-align:right;">$344</b>
<b style="top:691.46px;height:18px;line-height:18px;font-size:16px;transform:scaleY(1.04);transform-origin:0 14.54px;right:354px;text-align:right;">$187</b>
<b style="top:691.46px;height:18px;line-height:18px;font-size:16px;transform:scaleY(1.04);transform-origin:0 14.54px;right:271px;text-align:right;">$2,249</b>
<b style="top:691.46px;height:18px;line-height:18px;font-size:16px;transform:scaleY(1.04);transform-origin:0 14.54px;right:197px;text-align:right;">120%</b>
<b style="top:691.15px;height:16px;line-height:16px;font-size:14px;font-weight:normal;font-style:italic;transform:scaleY(1.04);transform-origin:0 12.85px;left:1181px;text-align:left;">CSR 73</b>
<b style="top:711.46px;height:18px;line-height:18px;font-size:16px;transform:scaleY(1.04);transform-origin:0 14.54px;right:1035px;text-align:right;">$60K</b>
<b style="top:711.46px;height:18px;line-height:18px;font-size:16px;transform:scaleY(1.04);transform-origin:0 14.54px;right:984px;text-align:right;">294%</b>
<b style="top:711.46px;height:18px;line-height:18px;font-size:16px;transform:scaleY(1.04);transform-origin:0 14.54px;right:899px;text-align:right;">5.74%</b>
<b style="top:711.46px;height:18px;line-height:18px;font-size:16px;transform:scaleY(1.04);transform-origin:0 14.54px;right:794px;text-align:right;">9.78%</b>
<b style="top:711.46px;height:18px;line-height:18px;font-size:16px;transform:scaleY(1.04);transform-origin:0 14.54px;right:666px;text-align:right;">$287</b>
<b style="top:711.46px;height:18px;line-height:18px;font-size:16px;transform:scaleY(1.04);transform-origin:0 14.54px;right:581px;text-align:right;">$489</b>
<b style="top:711.46px;height:18px;line-height:18px;font-size:16px;transform:scaleY(1.04);transform-origin:0 14.54px;right:354px;text-align:right;">$202</b>
<b style="top:711.46px;height:18px;line-height:18px;font-size:16px;transform:scaleY(1.04);transform-origin:0 14.54px;right:271px;text-align:right;">$2,427</b>
<b style="top:711.46px;height:18px;line-height:18px;font-size:16px;transform:scaleY(1.04);transform-origin:0 14.54px;right:197px;text-align:right;">71%</b>
<b style="top:731.46px;height:18px;line-height:18px;font-size:16px;transform:scaleY(1.04);transform-origin:0 14.54px;right:1035px;text-align:right;">$70K</b>
<b style="top:731.46px;height:18px;line-height:18px;font-size:16px;transform:scaleY(1.04);transform-origin:0 14.54px;right:984px;text-align:right;">342%</b>
<b style="top:731.46px;height:18px;line-height:18px;font-size:16px;transform:scaleY(1.04);transform-origin:0 14.54px;right:899px;text-align:right;">7.06%</b>
<b style="top:731.46px;height:18px;line-height:18px;font-size:16px;transform:scaleY(1.04);transform-origin:0 14.54px;right:794px;text-align:right;">9.96%</b>
<b style="top:731.46px;height:18px;line-height:18px;font-size:16px;transform:scaleY(1.04);transform-origin:0 14.54px;right:666px;text-align:right;">$412</b>
<b style="top:731.46px;height:18px;line-height:18px;font-size:16px;transform:scaleY(1.04);transform-origin:0 14.54px;right:581px;text-align:right;">$581</b>
<b style="top:731.46px;height:18px;line-height:18px;font-size:16px;transform:scaleY(1.04);transform-origin:0 14.54px;right:354px;text-align:right;">$169</b>
<b style="top:731.46px;height:18px;line-height:18px;font-size:16px;transform:scaleY(1.04);transform-origin:0 14.54px;right:271px;text-align:right;">$2,031</b>
<b style="top:731.46px;height:18px;line-height:18px;font-size:16px;transform:scaleY(1.04);transform-origin:0 14.54px;right:197px;text-align:right;">41%</b>
<b style="top:751.46px;height:18px;line-height:18px;font-size:16px;transform:scaleY(1.04);transform-origin:0 14.54px;right:1035px;text-align:right;">$80K</b>
<b style="top:751.46px;height:18px;line-height:18px;font-size:16px;transform:scaleY(1.04);transform-origin:0 14.54px;right:984px;text-align:right;">391%</b>
<b style="top:751.46px;height:18px;line-height:18px;font-size:16px;transform:scaleY(1.04);transform-origin:0 14.54px;right:899px;text-align:right;">8.28%</b>
<b style="top:751.46px;height:18px;line-height:18px;font-size:16px;transform:scaleY(1.04);transform-origin:0 14.54px;right:794px;text-align:right;">9.96%</b>
<b style="top:751.46px;height:18px;line-height:18px;font-size:16px;transform:scaleY(1.04);transform-origin:0 14.54px;right:666px;text-align:right;">$552</b>
<b style="top:751.46px;height:18px;line-height:18px;font-size:16px;transform:scaleY(1.04);transform-origin:0 14.54px;right:581px;text-align:right;">$664</b>
<b style="top:751.46px;height:18px;line-height:18px;font-size:16px;transform:scaleY(1.04);transform-origin:0 14.54px;right:354px;text-align:right;">$112</b>
<b style="top:751.46px;height:18px;line-height:18px;font-size:16px;transform:scaleY(1.04);transform-origin:0 14.54px;right:271px;text-align:right;">$1,347</b>
<b style="top:751.46px;height:18px;line-height:18px;font-size:16px;transform:scaleY(1.04);transform-origin:0 14.54px;right:197px;text-align:right;">20%</b>
<b style="top:771.46px;height:18px;line-height:18px;font-size:16px;transform:scaleY(1.04);transform-origin:0 14.54px;right:1035px;text-align:right;">$90K</b>
<b style="top:771.46px;height:18px;line-height:18px;font-size:16px;transform:scaleY(1.04);transform-origin:0 14.54px;right:984px;text-align:right;">440%</b>
<b style="top:771.46px;height:18px;line-height:18px;font-size:16px;transform:scaleY(1.04);transform-origin:0 14.54px;right:899px;text-align:right;">8.50%</b>
<b style="top:771.46px;height:18px;line-height:18px;font-size:16px;font-style:italic;transform:scaleY(1.04);transform-origin:0 14.54px;left:477px;width:104px;text-align:center;">no cap</b>
<b style="top:771.46px;height:18px;line-height:18px;font-size:16px;transform:scaleY(1.04);transform-origin:0 14.54px;right:666px;text-align:right;">$637</b>
<b style="top:771.46px;height:18px;line-height:18px;font-size:16px;transform:scaleY(1.04);transform-origin:0 14.54px;right:581px;text-align:right;">$3,176</b>
<b style="top:771.46px;height:18px;line-height:18px;font-size:16px;transform:scaleY(1.04);transform-origin:0 14.54px;right:354px;text-align:right;">$2,539</b>
<b style="top:771.46px;height:18px;line-height:18px;font-size:16px;transform:scaleY(1.04);transform-origin:0 14.54px;right:271px;text-align:right;">$30,471</b>
<b style="top:771.46px;height:18px;line-height:18px;font-size:16px;transform:scaleY(1.04);transform-origin:0 14.54px;right:197px;text-align:right;">399%</b>
<b style="top:631.84px;height:14px;line-height:14px;font-size:12px;transform:scaleY(1.04);transform-origin:0 11.16px;left:795px;width:133px;text-align:center;">2025 Full Price</b>
<b style="top:651.46px;height:18px;line-height:18px;font-size:16px;transform:scaleY(1.04);transform-origin:0 14.54px;left:795px;width:133px;text-align:center;">$2,416</b>
<b style="top:751.46px;height:18px;line-height:18px;font-size:16px;transform:scaleY(1.04);transform-origin:0 14.54px;left:795px;width:133px;text-align:center;">$3,176</b>
<b style="top:683.04px;height:14px;line-height:14px;font-size:12px;transform:scaleY(1.04);transform-origin:0 11.16px;left:795px;width:133px;text-align:center;">2026 full price</b>
<b style="top:698.84px;height:14px;line-height:14px;font-size:12px;transform:scaleY(1.04);transform-origin:0 11.16px;left:795px;width:133px;text-align:center;">w/24.2% hike</b>
</div>
</div></body></html>
